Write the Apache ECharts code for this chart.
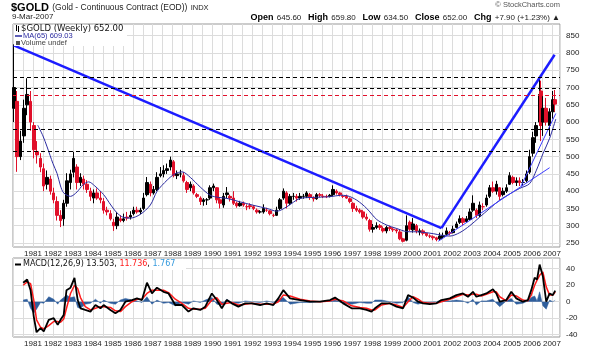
<!DOCTYPE html>
<html>
<head>
<meta charset="utf-8">
<script src="https://cdn.jsdelivr.net/npm/echarts@6/dist/echarts.min.js"></script>
<style>
  html, body { margin: 0; padding: 0; background: #fff; }
  #chart { width: 589px; height: 351px; }
</style>
</head>
<body>
<div id="chart"></div>
<script>
const goldBars = [
  [1980.04, 640, 700, 600, 825], [1980.21, 660, 500, 456, 690], [1980.38, 500, 545, 490, 575],
  [1980.54, 560, 640, 540, 665], [1980.71, 650, 680, 620, 727], [1980.88, 660, 600, 575, 690],
  [1981.04, 590, 520, 495, 600], [1981.21, 515, 505, 480, 545], [1981.38, 495, 470, 455, 510],
  [1981.54, 465, 415, 400, 480], [1981.71, 420, 440, 405, 460], [1981.88, 435, 400, 390, 445],
  [1982.04, 395, 375, 365, 410], [1982.21, 370, 330, 315, 385], [1982.38, 330, 315, 296, 345],
  [1982.54, 320, 365, 300, 375], [1982.71, 365, 430, 355, 452], [1982.88, 425, 450, 405, 462],
  [1983.04, 455, 495, 440, 514], [1983.21, 470, 425, 405, 478], [1983.38, 425, 440, 415, 452],
  [1983.54, 435, 420, 405, 445], [1983.71, 420, 405, 395, 432], [1983.88, 400, 385, 372, 410],
  [1984.04, 380, 395, 365, 405], [1984.21, 395, 380, 375, 408], [1984.38, 380, 375, 365, 400],
  [1984.54, 370, 345, 335, 380], [1984.71, 345, 340, 330, 355], [1984.88, 335, 320, 315, 345],
  [1985.04, 310, 300, 285, 320], [1985.21, 300, 325, 290, 340], [1985.38, 320, 315, 310, 330],
  [1985.54, 315, 320, 310, 335], [1985.71, 325, 322, 315, 340], [1985.88, 325, 330, 318, 342],
  [1986.04, 335, 345, 330, 355], [1986.21, 345, 340, 335, 355], [1986.38, 340, 345, 333, 352],
  [1986.54, 350, 380, 345, 395], [1986.71, 390, 425, 385, 441], [1986.88, 420, 395, 385, 428],
  [1987.04, 395, 405, 390, 415], [1987.21, 405, 440, 400, 455], [1987.38, 445, 450, 440, 470],
  [1987.54, 450, 460, 440, 475], [1987.71, 460, 465, 450, 480], [1987.88, 470, 490, 460, 500],
  [1988.04, 485, 445, 440, 490], [1988.21, 445, 450, 435, 460], [1988.38, 450, 450, 440, 462],
  [1988.54, 445, 430, 425, 455], [1988.71, 425, 405, 395, 430], [1988.88, 410, 420, 400, 428],
  [1989.04, 415, 395, 390, 420], [1989.21, 390, 385, 380, 395], [1989.38, 380, 370, 360, 385],
  [1989.54, 370, 375, 358, 380], [1989.71, 375, 375, 360, 380], [1989.88, 380, 410, 375, 417],
  [1990.04, 410, 415, 400, 422], [1990.21, 410, 375, 365, 412], [1990.38, 375, 365, 350, 380],
  [1990.54, 360, 385, 352, 395], [1990.71, 390, 395, 380, 412], [1990.88, 385, 380, 370, 390],
  [1991.04, 380, 365, 360, 400], [1991.21, 365, 358, 352, 370], [1991.38, 358, 365, 355, 372],
  [1991.54, 365, 360, 355, 370], [1991.71, 355, 355, 345, 362], [1991.88, 358, 355, 348, 365],
  [1992.04, 355, 350, 345, 360], [1992.21, 345, 340, 335, 350], [1992.38, 340, 340, 335, 345],
  [1992.54, 340, 350, 335, 362], [1992.71, 345, 345, 340, 352], [1992.88, 343, 335, 330, 345],
  [1993.04, 330, 330, 325, 335], [1993.21, 330, 345, 328, 355], [1993.38, 350, 375, 345, 380],
  [1993.54, 380, 400, 375, 408], [1993.71, 395, 365, 350, 400], [1993.88, 365, 385, 360, 392],
  [1994.04, 385, 385, 375, 395], [1994.21, 385, 380, 370, 392], [1994.38, 380, 385, 375, 395],
  [1994.54, 385, 385, 378, 392], [1994.71, 385, 395, 380, 400], [1994.88, 390, 382, 375, 395],
  [1995.04, 380, 378, 370, 385], [1995.21, 378, 390, 375, 395], [1995.38, 390, 388, 382, 395],
  [1995.54, 385, 385, 380, 392], [1995.71, 385, 384, 380, 390], [1995.88, 385, 388, 382, 392],
  [1996.04, 390, 405, 385, 417], [1996.21, 400, 395, 390, 405], [1996.38, 395, 390, 385, 398],
  [1996.54, 385, 385, 380, 390], [1996.71, 385, 380, 378, 390], [1996.88, 378, 370, 365, 382],
  [1997.04, 365, 350, 340, 368], [1997.21, 350, 345, 340, 358], [1997.38, 345, 340, 335, 350],
  [1997.54, 340, 325, 320, 345], [1997.71, 325, 320, 315, 335], [1997.88, 315, 290, 283, 320],
  [1998.04, 290, 295, 280, 305], [1998.21, 295, 300, 290, 310], [1998.38, 300, 295, 288, 305],
  [1998.54, 292, 285, 280, 298], [1998.71, 285, 295, 278, 300], [1998.88, 295, 292, 285, 300],
  [1999.04, 290, 288, 282, 295], [1999.21, 288, 285, 278, 292], [1999.38, 282, 262, 258, 290],
  [1999.54, 262, 255, 252, 265], [1999.71, 258, 300, 255, 330], [1999.88, 310, 290, 285, 315],
  [2000.04, 288, 305, 280, 322], [2000.21, 300, 285, 278, 305], [2000.38, 282, 285, 272, 292],
  [2000.54, 285, 278, 272, 290], [2000.71, 278, 272, 268, 280], [2000.88, 270, 270, 264, 275],
  [2001.04, 268, 265, 258, 272], [2001.21, 265, 260, 255, 268], [2001.38, 262, 270, 258, 280],
  [2001.54, 268, 272, 262, 280], [2001.71, 275, 285, 270, 295], [2001.88, 280, 278, 272, 285],
  [2002.04, 280, 290, 278, 300], [2002.21, 295, 305, 292, 312], [2002.38, 310, 320, 305, 330],
  [2002.54, 320, 310, 300, 325], [2002.71, 312, 320, 308, 328], [2002.88, 318, 340, 315, 350],
  [2003.04, 345, 365, 340, 388], [2003.21, 345, 330, 322, 350], [2003.38, 330, 360, 325, 370],
  [2003.54, 355, 355, 345, 365], [2003.71, 360, 380, 355, 390], [2003.88, 385, 410, 380, 418],
  [2004.04, 410, 400, 395, 428], [2004.21, 400, 420, 390, 430], [2004.38, 410, 385, 374, 412],
  [2004.54, 390, 400, 385, 410], [2004.71, 400, 410, 395, 420], [2004.88, 420, 445, 418, 455],
  [2005.04, 440, 425, 420, 445], [2005.21, 425, 430, 415, 440], [2005.38, 430, 425, 415, 440],
  [2005.54, 425, 425, 415, 435], [2005.71, 430, 450, 425, 460], [2005.88, 455, 500, 450, 520],
  [2006.04, 510, 555, 500, 572], [2006.21, 560, 590, 540, 600], [2006.38, 600, 680, 590, 730],
  [2006.46, 690, 590, 545, 720], [2006.54, 600, 640, 560, 675], [2006.71, 640, 600, 590, 670],
  [2006.88, 590, 630, 560, 640], [2007.04, 630, 665, 610, 690], [2007.16, 665, 652, 630, 693]
];

// MA(65)
const maYears  = [1981.24, 1981.5, 1981.71, 1982.0, 1982.21, 1982.38, 1982.54, 1982.88, 1983.21, 1983.5, 1983.79,
  1984.1, 1984.54, 1984.9, 1985.21, 1985.5, 1985.88, 1986.38, 1986.88, 1987.22, 1987.72, 1988.1, 1988.47,
  1988.88, 1989.38, 1989.88, 1990.3, 1990.72, 1991.38, 1992.05, 1992.72, 1993.22, 1993.72, 1994.38, 1995.05,
  1995.88, 1996.4, 1996.72, 1997.22, 1997.72, 1998.22, 1998.72, 1999.22, 1999.72, 2000.38, 2001.05, 2001.5,
  2001.88, 2002.38, 2002.88, 2003.38, 2003.88, 2004.38, 2004.88, 2005.38, 2005.88, 2006.22, 2006.55, 2006.88, 2007.19];
const maValues = [591, 560, 528, 480, 451, 415, 395, 385, 398, 418, 427,
  415, 390, 360, 337, 325, 322, 333, 360, 400, 432, 450, 456,
  440, 412, 388, 382, 379, 369, 359, 350, 342, 355, 379, 382,
  384, 388, 387, 374, 350, 318, 302, 292, 283, 282, 277, 272,
  270, 280, 300, 325, 350, 374, 392, 408, 422, 461, 509, 553, 609];

// MACD(12,26,9)
const macdYears = [1980.51, 1980.71, 1980.88, 1981.04, 1981.18, 1981.38, 1981.54, 1981.79, 1982.04, 1982.24,
  1982.38, 1982.54, 1982.68, 1982.88, 1983.08, 1983.24, 1983.38, 1983.62, 1983.88, 1984.13, 1984.38, 1984.54,
  1984.88, 1985.13, 1985.38, 1985.63, 1985.96, 1986.21, 1986.46, 1986.71, 1986.96, 1987.21, 1987.54, 1987.79,
  1988.13, 1988.46, 1988.79, 1989.04, 1989.38, 1989.63, 1989.96, 1990.21, 1990.46, 1990.71, 1990.96, 1991.29,
  1991.63, 1991.96, 1992.38, 1992.71, 1993.04, 1993.29, 1993.54, 1993.88, 1994.38, 1994.88, 1995.38, 1995.88,
  1996.13, 1996.54, 1996.96, 1997.38, 1997.71, 1997.96, 1998.13, 1998.46, 1998.88, 1999.21, 1999.54, 1999.79,
  2000.04, 2000.29, 2000.54, 2000.88, 2001.21, 2001.46, 2001.88, 2002.21, 2002.54, 2002.79, 2003.04, 2003.21,
  2003.46, 2003.71, 2004.04, 2004.21, 2004.38, 2004.71, 2004.96, 2005.21, 2005.54, 2005.79, 2005.96, 2006.13,
  2006.25, 2006.38, 2006.54, 2006.71, 2006.88, 2007.04, 2007.16];
const macdLine = [23, 27, 14, -18, -37, -32, -36, -22, -20, -28,
  -22, -16, 14, 17, 29, 2, -8, -10, -12, -4, -8, -4,
  -10, -14, -10, 0, 2, 4, 2, 23, 10, 17, 12, 10,
  -4, -4, -12, -8, -10, -6, 10, 2, -8, 2, -2, -6,
  -2, -2, -4, -2, -4, 4, 14, 4, 2, 0, 0, 2,
  5, -2, -8, -8, -10, -12, -8, -2, -2, -6, -8, 8,
  5, 0, -2, -3, -2, 2, 4, 8, 10, 6, 12, 6,
  8, 10, 15, 10, 0, 2, 12, 4, 0, 2, 14, 29,
  27, 45, 31, 0, 10, 8, 13.5];
const macdSignal = [20, 24, 22, 2, -22, -31, -33, -29, -24, -24,
  -25, -21, -8, 10, 20, 16, 5, -6, -10, -8, -6, -6,
  -7, -11, -12, -6, 0, 3, 3, 10, 14, 14, 14, 11,
  3, -2, -8, -9, -9, -8, 2, 5, -3, -2, -1, -4,
  -3, -2, -3, -3, -3, 0, 8, 7, 3, 1, 0, 1,
  3, 1, -5, -7, -8, -10, -10, -4, -2, -4, -7, 0,
  6, 3, -1, -2, -2, 0, 3, 6, 9, 8, 9, 9,
  7, 9, 12, 12, 6, 1, 8, 7, 2, 1, 8, 20,
  26, 32, 36, 18, 8, 8, 11.7];
const macdHist = [2, 3, -8, -14, -9, -1, -2, 6, 3, -3,
  2, 5, 8, 5, 6, -7, -8, -3, -2, 3, -2, 2,
  -2, -3, 2, 4, 2, 1, -1, 6, -3, 2, -2, -1,
  -5, -1, -3, 1, -1, 2, 5, -3, -4, 3, -1, -2,
  1, 0, -1, 1, -1, 3, 5, -3, -1, -1, 0, 1,
  2, -2, -3, -1, -2, -2, 2, 2, 0, -2, -1, 6,
  -1, -3, -1, -1, 0, 2, 1, 2, 1, -2, 3, -4,
  1, 1, 3, -2, -6, 1, 4, -3, -2, 1, 5, 7,
  1, 12, -5, -9, 2, 0, 1.8];

const priceTicks = [250, 300, 350, 400, 450, 500, 550, 600, 650, 700, 750, 800, 850];
const macdTicks = [-40, -20, 0, 20, 40];
const blackLevels = [730, 697, 580, 516];
const redLevels = [677];
const downTrend = [[1980.04, 822], [2001.46, 293]];
const upTrend = [[2001.46, 293], [2007.13, 795]];
const thinSupport = [[2001.3, 255], [2006.88, 468]];
const thinChannel = [[2005.45, 415], [2007.19, 625]];

const zip = (xs, ys) => xs.map((x, i) => [x, ys[i]]);
const lblFont = { fontFamily: 'Liberation Sans', fontSize: 8, color: '#222' };

let myChart = echarts.init(document.getElementById('chart'));

function xAx(grid, margin) {
  return {
    type: 'value', gridIndex: grid, min: 1980, max: 2007.4, interval: 0.5,
    axisLine: { show: false }, axisTick: { show: false },
    axisLabel: Object.assign({ margin: margin, showMinLabel: false, showMaxLabel: false,
      formatter: v => Number.isInteger(v) ? String(v) : '' }, lblFont),
    splitLine: { show: true, lineStyle: { color: '#dcdcdc', width: 1 } }
  };
}
function yAx(grid, min, max, ticks) {
  return {
    type: 'value', gridIndex: grid, position: 'right', min: min, max: max,
    axisLine: { show: false },
    axisTick: { show: false, customValues: ticks },
    axisLabel: Object.assign({ margin: 6, customValues: ticks }, lblFont),
    splitLine: { show: true, lineStyle: { color: '#dcdcdc', width: 1 } }
  };
}
function levelLines(vals, color) {
  return {
    silent: true, symbol: 'none', label: { show: false },
    lineStyle: { color: color, type: [4, 3], width: 1 },
    data: vals.map(v => ({ yAxis: v }))
  };
}

myChart.setOption({
  animation: false,
  grid: [
    { left: 13, top: 24, width: 547, height: 223, show: true, borderColor: '#999', borderWidth: 1 },
    { left: 13, top: 258, width: 547, height: 79, show: true, borderColor: '#999', borderWidth: 1 }
  ],
  xAxis: [xAx(0, 3), xAx(1, 3)],
  yAxis: [yAx(0, 238.4, 884, priceTicks), yAx(1, -42.8, 53, macdTicks)],
  series: [
    {
      type: 'candlestick', xAxisIndex: 0, yAxisIndex: 0,
      encode: { x: 0, y: [1, 2, 3, 4] },
      barWidth: 3,
      itemStyle: { color: '#000', color0: '#e0102a', borderColor: '#000', borderColor0: '#e0102a', borderWidth: 1 },
      data: goldBars,
      markLine: levelLines(blackLevels, '#000')
    },
    {
      type: 'line', xAxisIndex: 0, yAxisIndex: 0, showSymbol: false, smooth: 0.3,
      lineStyle: { color: '#2b2ba0', width: 1 },
      data: zip(maYears, maValues),
      markLine: levelLines(redLevels, '#e0102a')
    },
    { type: 'line', showSymbol: false, lineStyle: { color: '#1c1cff', width: 2.5 }, data: downTrend },
    { type: 'line', showSymbol: false, lineStyle: { color: '#1c1cff', width: 2.5 }, data: upTrend },
    { type: 'line', showSymbol: false, lineStyle: { color: '#3c3cff', width: 1 }, data: thinSupport },
    { type: 'line', showSymbol: false, lineStyle: { color: '#3c3cff', width: 1 }, data: thinChannel },
    {
      type: 'line', xAxisIndex: 1, yAxisIndex: 1, showSymbol: false,
      lineStyle: { color: '#2f5e9c', width: 0.5 }, areaStyle: { color: '#2f5e9c', opacity: 1 },
      data: zip(macdYears, macdHist)
    },
    {
      type: 'line', xAxisIndex: 1, yAxisIndex: 1, showSymbol: false,
      lineStyle: { color: '#ff1a1a', width: 1.5 },
      data: zip(macdYears, macdSignal)
    },
    {
      type: 'line', xAxisIndex: 1, yAxisIndex: 1, showSymbol: false,
      lineStyle: { color: '#000', width: 1.8 },
      data: zip(macdYears, macdLine)
    }
  ],
  graphic: [
    { type: 'text', left: 11, top: 2, style: {
      text: '{b|$GOLD} {n|(Gold - Continuous Contract (EOD))} {s|INDX}',
      rich: {
        b: { fontFamily: 'Liberation Sans', fontWeight: 'bold', fontSize: 11, fill: '#000' },
        n: { fontFamily: 'Liberation Sans', fontSize: 8.5, fill: '#222' },
        s: { fontFamily: 'Liberation Sans', fontSize: 7.5, fill: '#222' }
      } } },
    { type: 'text', left: 12, top: 13, style: { text: '9-Mar-2007', fontFamily: 'Liberation Sans', fontSize: 8, fill: '#222' } },
    { type: 'text', right: 29, top: 1, style: { text: '\u00a9 StockCharts.com', fontFamily: 'Liberation Sans', fontSize: 7.5, fill: '#555' } },
    { type: 'text', right: 29, top: 12, style: {
      text: '{b|Open} {n|645.60}  {b|High} {n|659.80}  {b|Low} {n|634.50}  {b|Close} {n|652.00}  {b|Chg} {n|+7.90 (+1.23%) \u25b2}',
      rich: {
        b: { fontFamily: 'Liberation Sans', fontWeight: 'bold', fontSize: 9, fill: '#000' },
        n: { fontFamily: 'Liberation Sans', fontSize: 8, fill: '#222' }
      } } },
    // legend of the price panel, on a white box
    { type: 'rect', z: 50, shape: { x: 14, y: 25, width: 113, height: 21 }, style: { fill: '#fff' } },
    { type: 'rect', z: 51, shape: { x: 16, y: 25, width: 1, height: 6 }, style: { fill: '#000' } },
    { type: 'rect', z: 51, shape: { x: 18, y: 26, width: 1, height: 6 }, style: { fill: '#000' } },
    { type: 'text', z: 51, left: 21, top: 24, style: { text: '$GOLD (Weekly) 652.00', fontFamily: 'DejaVu Sans', fontSize: 8.5, fill: '#111' } },
    { type: 'line', z: 51, shape: { x1: 15, y1: 36, x2: 22, y2: 36 }, style: { stroke: '#2b2ba0', lineWidth: 1.5 } },
    { type: 'text', z: 51, left: 23, top: 32, style: { text: 'MA(65) 609.03', fontFamily: 'Liberation Sans', fontSize: 7.5, fill: '#2b2ba0' } },
    { type: 'rect', z: 51, shape: { x: 16, y: 41, width: 4, height: 4 }, style: { fill: '#555' } },
    { type: 'text', z: 51, left: 21, top: 39, style: { text: 'Volume undef', fontFamily: 'Liberation Sans', fontSize: 7.5, fill: '#444' } },
    // legend of the MACD panel
    { type: 'rect', z: 50, shape: { x: 14, y: 259, width: 172, height: 11 }, style: { fill: '#fff' } },
    { type: 'line', z: 51, shape: { x1: 15, y1: 264.5, x2: 21, y2: 264.5 }, style: { stroke: '#000', lineWidth: 2 } },
    { type: 'text', z: 51, left: 23, top: 260, style: {
      text: '{k|MACD(12,26,9) 13.503, }{r|11.736}{k|, }{c|1.767}',
      rich: {
        k: { fontFamily: 'DejaVu Sans', fontSize: 8, fill: '#111' },
        r: { fontFamily: 'DejaVu Sans', fontSize: 8, fill: '#ff1a1a' },
        c: { fontFamily: 'DejaVu Sans', fontSize: 8, fill: '#3399dd' }
      } } }
  ]
});
window.onresize = myChart.resize;
</script>
</body>
</html>
